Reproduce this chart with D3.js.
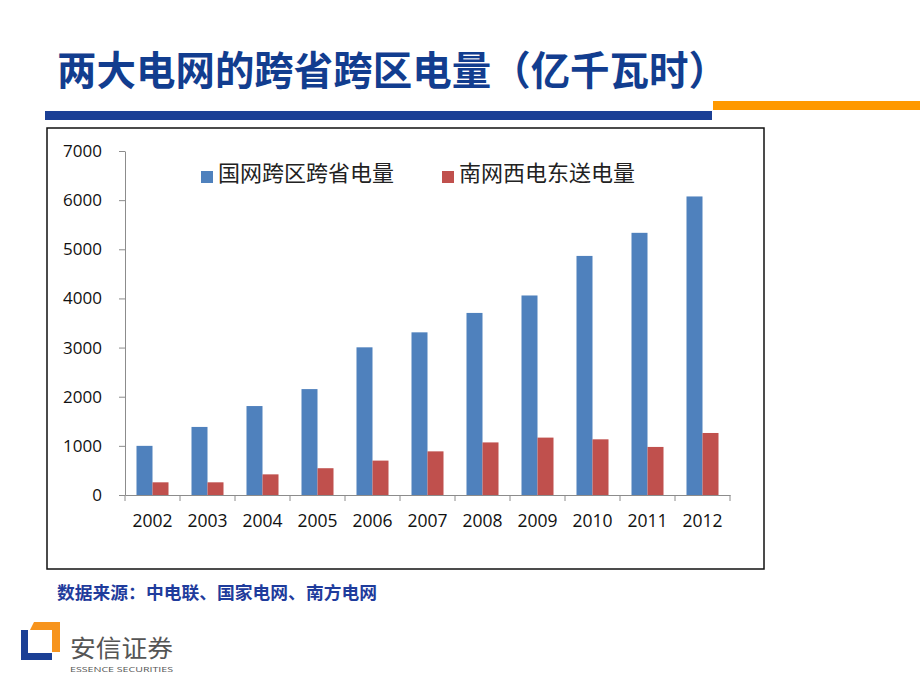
<!DOCTYPE html>
<html>
<head>
<meta charset="utf-8">
<script src="https://cdn.jsdelivr.net/npm/d3@7"></script>
<style>
  body { margin: 0; background: #fff; }
  svg { display: block; }
</style>
</head>
<body>
<script>
// data
const years = ['2002', '2003', '2004', '2005', '2006', '2007', '2008', '2009', '2010', '2011', '2012'];
const seriesNames = ['国网跨区跨省电量', '南网西电东送电量'];
const stateGrid = [1000, 1385, 1810, 2155, 3005, 3310, 3705, 4060, 4865, 5335, 6075];
const southGrid = [258, 258, 420, 545, 700, 888, 1070, 1168, 1133, 978, 1262];
const yTicks = [0, 1000, 2000, 3000, 4000, 5000, 6000, 7000];
const colors = ['#4f81bd', '#c0504d'];

const w = 920, h = 690;
const plot = { left: 125, right: 730, top: 151, bottom: 495 };

const svg = d3.select('body').append('svg')
    .attr('width', w)
    .attr('height', h);

// title + header bars
svg.append('text')
    .attr('x', 57)
    .attr('y', 85)
    .attr('font-family', '"Noto Sans CJK SC", sans-serif')
    .attr('font-weight', 700)
    .attr('font-size', 40)
    .attr('fill', '#123d8f')
    .attr('textLength', 671)
    .attr('lengthAdjust', 'spacingAndGlyphs')
    .text('两大电网的跨省跨区电量（亿千瓦时）');

svg.append('rect').attr('x', 45).attr('y', 111).attr('width', 667).attr('height', 9).attr('fill', '#1b3f95');
svg.append('rect').attr('x', 713).attr('y', 101).attr('width', 207).attr('height', 9).attr('fill', '#ff9900');

// chart frame
svg.append('rect')
    .attr('x', 47).attr('y', 128)
    .attr('width', 717).attr('height', 441)
    .attr('fill', 'none')
    .attr('stroke', '#111')
    .attr('stroke-width', 1.5);

const x0 = d3.scaleBand()
    .domain(years)
    .range([plot.left, plot.right])
    .paddingInner(0.418)
    .paddingOuter(0.209);

const x1 = d3.scaleBand()
    .domain([0, 1])
    .range([0, x0.bandwidth()]);

const y = d3.scaleLinear()
    .domain([0, 7000])
    .range([plot.bottom, plot.top]);

const series = [stateGrid, southGrid];

const g = svg.append('g');

years.forEach((yr, i) => {
    series.forEach((vals, s) => {
        g.append('rect')
            .attr('x', x0(yr) + x1(s))
            .attr('y', y(vals[i]))
            .attr('width', x1.bandwidth())
            .attr('height', y(0) - y(vals[i]))
            .attr('fill', colors[s]);
    });
});

// y axis
const yAxisG = svg.append('g')
    .attr('transform', `translate(${plot.left},0)`)
    .call(d3.axisLeft(y).tickValues(yTicks).tickFormat(d3.format('d'))
        .tickSize(6).tickPadding(17).tickSizeOuter(0));
yAxisG.selectAll('path, line').attr('stroke', '#8c8c8c');
yAxisG.selectAll('text')
    .attr('font-family', '"Open Sans", sans-serif')
    .attr('font-size', 17)
    .attr('fill', '#111');

// x axis: labels centred, ticks between categories
const xAxisG = svg.append('g')
    .attr('transform', `translate(0,${plot.bottom})`)
    .call(d3.axisBottom(x0).tickSize(0).tickPadding(20).tickSizeOuter(0));
xAxisG.select('.domain').attr('stroke', '#8c8c8c');
xAxisG.selectAll('text')
    .attr('font-family', '"Open Sans", sans-serif')
    .attr('font-size', 17.5)
    .attr('fill', '#111');

const step = x0.step();
xAxisG.selectAll('line.sep')
    .data(d3.range(years.length + 1))
    .enter()
    .append('line')
    .attr('class', 'sep')
    .attr('x1', d => plot.left + d * step)
    .attr('x2', d => plot.left + d * step)
    .attr('y1', 0)
    .attr('y2', 6)
    .attr('stroke', '#8c8c8c');

// legend
const legendX = [201, 442];
seriesNames.forEach((name, s) => {
    svg.append('rect')
        .attr('x', legendX[s])
        .attr('y', 171)
        .attr('width', 12)
        .attr('height', 12)
        .attr('fill', colors[s]);
    svg.append('text')
        .attr('x', legendX[s] + 17)
        .attr('y', 181)
        .attr('font-family', '"Noto Sans CJK SC", sans-serif')
        .attr('font-size', 22)
        .attr('fill', '#222')
        .text(name);
});

// source note
svg.append('text')
    .attr('x', 57)
    .attr('y', 599)
    .attr('font-family', '"Noto Sans CJK SC", sans-serif')
    .attr('font-weight', 700)
    .attr('font-size', 17.5)
    .attr('fill', '#1f3c9c')
    .attr('textLength', 320)
    .attr('lengthAdjust', 'spacingAndGlyphs')
    .text('数据来源：中电联、国家电网、南方电网');

// logo
const logo = svg.append('g');
logo.append('path')
    .attr('d', 'M21,630 L28,630 L28,653 L52,653 L52,660 L21,660 Z')
    .attr('fill', '#1b3f95');
logo.append('path')
    .attr('d', 'M34,622 L60,622 L60,652 L52,652 L52,630 L30,630 Z')
    .attr('fill', '#f7941d');
logo.append('text')
    .attr('x', 70)
    .attr('y', 657)
    .attr('font-family', '"Noto Sans CJK SC", sans-serif')
    .attr('font-size', 24)
    .attr('fill', '#555')
    .attr('textLength', 103)
    .attr('lengthAdjust', 'spacingAndGlyphs')
    .text('安信证券');
logo.append('text')
    .attr('x', 70)
    .attr('y', 672)
    .attr('font-family', '"Open Sans", sans-serif')
    .attr('font-size', 8)
    .attr('fill', '#555')
    .attr('textLength', 103)
    .attr('lengthAdjust', 'spacingAndGlyphs')
    .text('ESSENCE SECURITIES');
</script>
</body>
</html>
